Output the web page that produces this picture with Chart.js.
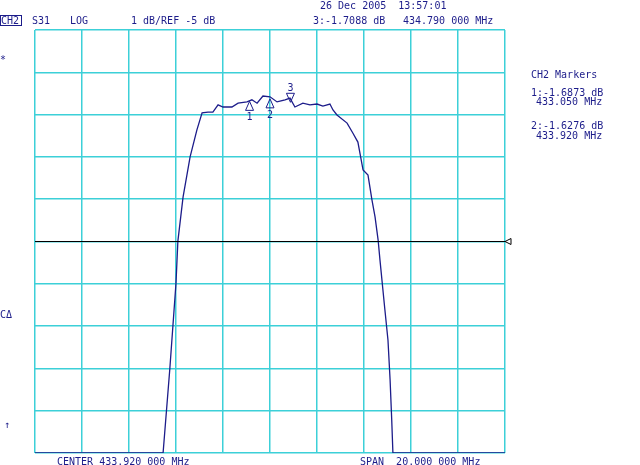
<!DOCTYPE html>
<html>
<head>
<meta charset="utf-8">
<script src="https://cdn.jsdelivr.net/npm/chart.js@4"></script>
<style>
  html, body { margin: 0; padding: 0; background: #fff; }
  #wrap { width: 640px; height: 465px; }
</style>
</head>
<body>
<div id="wrap"><canvas id="c" width="640" height="465"></canvas></div>
<script>
// S31 trace, CH2 (MHz / dB)
const freqs = [423.92, 429.37, 429.66, 429.92, 430.00, 430.22, 430.52, 430.81, 431.03, 431.28,
  431.49, 431.71, 431.92, 432.30, 432.56, 432.94, 433.15, 433.37, 433.62, 433.92,
  434.22, 434.56, 434.77, 434.98, 435.32, 435.62, 435.92, 436.17, 436.47, 436.60,
  436.77, 437.20, 437.45, 437.66, 437.88, 438.09, 438.26, 438.39, 438.52, 438.60,
  438.81, 438.94, 439.03, 439.10, 439.15, 443.92];
const s31 = [-10, -10, -7.99, -5.98, -4.99, -3.95, -3.00, -2.36, -1.96, -1.94,
  -1.94, -1.77, -1.82, -1.82, -1.73, -1.70, -1.65, -1.73, -1.56, -1.58,
  -1.70, -1.65, -1.61, -1.82, -1.73, -1.77, -1.75, -1.80, -1.75, -1.89,
  -2.01, -2.20, -2.44, -2.65, -3.31, -3.43, -4.02, -4.42, -4.96, -5.44,
  -6.62, -7.33, -8.27, -9.22, -10, -10];

const center = 433.92, span = 20;
const refLevel = -5, perDiv = 1;
const markers = [
  { n: "1", f: 433.05, db: -1.6873, up: true },
  { n: "2", f: 433.92, db: -1.6276, up: true },
  { n: "3", f: 434.79, db: -1.7088, up: false }
];
const xTicks = Array.from({ length: 11 }, (_, i) => center - span / 2 + i * span / 10);
const yTicks = Array.from({ length: 11 }, (_, i) => refLevel + 5 * perDiv - i * perDiv);

const ink = "#1c1c8a";
const gridCol = "#3cd0d8";
const mono = "10px 'DejaVu Sans Mono', monospace";

const overlay = {
  id: "overlay",
  afterDatasetsDraw(chart) {
    const { ctx, chartArea: a, scales: { x, y } } = chart;
    ctx.save();
    // reference line
    const ry = y.getPixelForValue(refLevel);
    ctx.strokeStyle = "#000"; ctx.lineWidth = 1;
    ctx.beginPath(); ctx.moveTo(a.left, ry); ctx.lineTo(a.right, ry); ctx.stroke();
    ctx.beginPath(); ctx.moveTo(a.right, ry); ctx.lineTo(a.right + 6, ry - 3);
    ctx.lineTo(a.right + 6, ry + 3); ctx.closePath(); ctx.stroke();
    // markers
    ctx.strokeStyle = ink; ctx.fillStyle = ink; ctx.font = mono; ctx.textAlign = "center";
    markers.forEach(m => {
      const px = x.getPixelForValue(m.f), py = y.getPixelForValue(m.db);
      ctx.beginPath();
      if (m.up) {
        ctx.moveTo(px, py); ctx.lineTo(px - 4, py + 9); ctx.lineTo(px + 4, py + 9); ctx.closePath();
        ctx.stroke(); ctx.fillText(m.n, px, py + 19);
      } else {
        ctx.moveTo(px, py); ctx.lineTo(px - 4, py - 9); ctx.lineTo(px + 4, py - 9); ctx.closePath();
        ctx.stroke(); ctx.fillText(m.n, px, py - 11);
      }
    });
    // annotations around the screen
    ctx.textAlign = "left"; ctx.textBaseline = "alphabetic";
    const t = (s, tx, ty) => ctx.fillText(s, tx, ty);
    t("26 Dec 2005  13:57:01", 320, 9);
    t("CH2", 1, 24); ctx.strokeRect(0.5, 15.5, 21, 10);
    t("S31", 32, 24); t("LOG", 70, 24); t("1 dB/REF -5 dB", 131, 24);
    t("3:-1.7088 dB", 313, 24); t("434.790 000 MHz", 403, 24);
    t("CH2 Markers", 531, 78);
    t("1:-1.6873 dB", 531, 96); t("433.050 MHz", 536, 105);
    t("2:-1.6276 dB", 531, 129); t("433.920 MHz", 536, 139);
    t("*", 0, 63); t("C\u0394", 0, 318); t("\u2191", 4, 428);
    t("CENTER 433.920 000 MHz", 57, 465);
    t("SPAN  20.000 000 MHz", 360, 465);
    ctx.restore();
  }
};

new Chart(document.getElementById("c"), {
  type: "line",
  data: {
    datasets: [{
      data: freqs.map((f, i) => ({ x: f, y: s31[i] })),
      borderColor: ink, borderWidth: 1.3, pointRadius: 0, tension: 0
    }]
  },
  options: {
    responsive: false, animation: false,
    layout: { padding: { left: 35, top: 30, right: 135, bottom: 12 } },
    plugins: { legend: { display: false }, tooltip: { enabled: false } },
    scales: {
      x: {
        type: "linear", min: xTicks[0], max: xTicks[10],
        afterBuildTicks: s => { s.ticks = xTicks.map(v => ({ value: v })); },
        ticks: { display: false }, border: { display: false },
        grid: { color: gridCol, lineWidth: 1.5, drawTicks: false }
      },
      y: {
        min: yTicks[10], max: yTicks[0],
        afterBuildTicks: s => { s.ticks = yTicks.map(v => ({ value: v })); },
        ticks: { display: false }, border: { display: false },
        grid: { color: gridCol, lineWidth: 1.5, drawTicks: false }
      }
    }
  },
  plugins: [overlay]
});
</script>
</body>
</html>
